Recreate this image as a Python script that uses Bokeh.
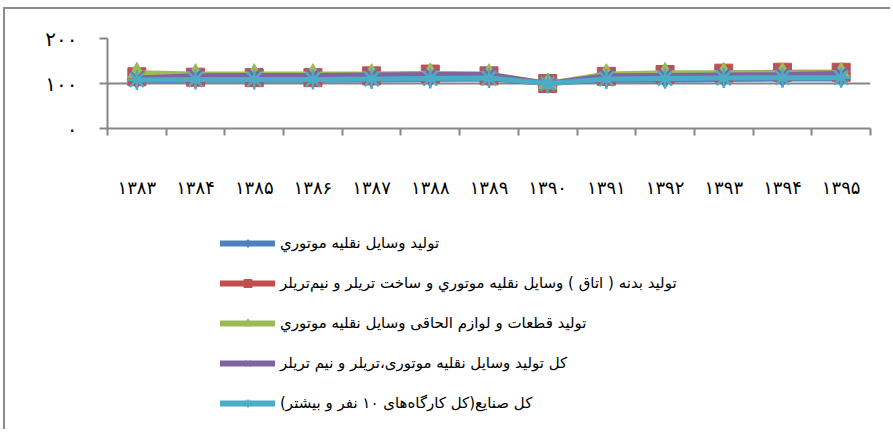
from bokeh.plotting import figure
from bokeh.layouts import column
from bokeh.models import FixedTicker, Legend, LegendItem, Range1d, ColumnDataSource
from bokeh.embed import file_html
from bokeh.resources import INLINE

years = ["۱۳۸۳", "۱۳۸۴", "۱۳۸۵", "۱۳۸۶", "۱۳۸۷", "۱۳۸۸", "۱۳۸۹",
         "۱۳۹۰", "۱۳۹۱", "۱۳۹۲", "۱۳۹۳", "۱۳۹۴", "۱۳۹۵"]
y_ticks = [0, 100, 200]
y_tick_labels = ["۰", "۱۰۰", "۲۰۰"]

names = [
    "تولید وسایل نقلیه موتوري",
    "تولید بدنه ( اتاق ) وسایل نقلیه موتوري و ساخت تریلر و نیم\u200cتریلر",
    "تولید قطعات و لوازم الحاقی وسایل نقلیه موتوري",
    "کل تولید وسایل نقلیه موتوری،تریلر و نیم تریلر",
    "\u200fکل صنایع(کل کارگاه\u200cهای ۱۰ نفر و بیشتر)\u200f",
]

vehicles = [106, 107, 107, 107, 108, 109, 110, 100, 108, 107, 109, 110, 110]
bodies = [115, 114, 113, 113, 117, 121, 117, 100, 116, 120, 123, 125, 125]
parts = [124, 121, 121, 121, 121, 123, 121, 100, 121, 124, 124, 124, 124]
total_vehicles = [112, 117, 118, 118, 119, 120, 120, 100, 117, 118, 119, 120, 122]
all_industry = [108, 109, 109, 109, 110, 111, 112, 100, 110, 111, 112, 113, 113]

series = [vehicles, bodies, parts, total_vehicles, all_industry]
colors = ["#4F81BD", "#C0504D", "#9BBB59", "#8064A2", "#4BACC6"]
markers = ["diamond", "square", "triangle", "x", "asterisk"]
msizes = [16, 18, 18, 20, 20]

xs = [i + 0.5 for i in range(len(years))]

p = figure(width=885, height=198, output_backend="svg", toolbar_location=None,
           x_range=Range1d(0, len(years)), y_range=Range1d(0, 200),
           min_border_left=102, min_border_right=20, min_border_top=29,
           min_border_bottom=79)
p.outline_line_color = None
p.background_fill_color = "white"
p.border_fill_color = "white"

axis_gray = "#868686"
# x axis
p.xaxis.ticker = FixedTicker(ticks=xs, minor_ticks=list(range(len(years) + 1)))
p.xaxis.major_label_overrides = {x: lab for x, lab in zip(xs, years)}
p.xaxis.major_tick_out = 0
p.xaxis.major_tick_in = 0
p.xaxis.minor_tick_out = 7
p.xaxis.minor_tick_in = 0
p.xaxis.minor_tick_line_color = axis_gray
p.xaxis.minor_tick_line_width = 2
p.xaxis.axis_line_color = axis_gray
p.xaxis.axis_line_width = 2
p.xaxis.major_label_standoff = 41
p.xaxis.major_label_text_font = "DejaVu Sans"
p.xaxis.major_label_text_font_size = "18px"
p.xaxis.major_label_text_color = "black"
# y axis
p.yaxis.ticker = FixedTicker(ticks=y_ticks, minor_ticks=[])
p.yaxis.major_label_overrides = {t: lab for t, lab in zip(y_ticks, y_tick_labels)}
p.yaxis.major_tick_out = 8
p.yaxis.major_tick_in = 0
p.yaxis.major_tick_line_color = axis_gray
p.yaxis.major_tick_line_width = 2
p.yaxis.minor_tick_line_color = None
p.yaxis.axis_line_color = axis_gray
p.yaxis.axis_line_width = 2
p.yaxis.major_label_standoff = 22
p.yaxis.major_label_text_font = "DejaVu Sans"
p.yaxis.major_label_text_font_size = "20px"
p.yaxis.major_label_text_color = "black"

p.xgrid.grid_line_color = None
p.ygrid.grid_line_color = axis_gray
p.ygrid.grid_line_width = 2

# legend figure (its view is empty; only the legend is visible)
p2 = figure(width=885, height=222, output_backend="svg", toolbar_location=None,
            x_range=Range1d(-100, -99), y_range=Range1d(-100, -99),
            x_axis_location=None, y_axis_location=None,
            min_border=0, min_border_left=0, min_border_right=0,
            min_border_top=0, min_border_bottom=0)
p2.outline_line_color = None
p2.grid.grid_line_color = None
p2.background_fill_color = "white"
p2.border_fill_color = "white"

items = []
for name, vals, col, mk, ms in zip(names, series, colors, markers, msizes):
    src = ColumnDataSource(dict(x=xs, y=vals))
    p.line("x", "y", source=src, line_color=col, line_width=5)
    lr = p2.line("x", "y", source=src, line_color=col, line_width=6,
                 line_cap="round")
    if mk in ("x", "asterisk"):
        p.scatter("x", "y", source=src, marker=mk, size=ms, line_color=col,
                  line_width=2.5)
        sr = p2.scatter("x", "y", source=src, marker=mk, size=ms, line_color=col,
                        line_width=1.5)
    else:
        p.scatter("x", "y", source=src, marker=mk, size=ms, fill_color=col,
                  line_color=col)
        sr = p2.scatter("x", "y", source=src, marker=mk, size=ms, fill_color=col,
                        line_color=col)
    items.append(LegendItem(label=name, renderers=[lr, sr]))

legend = Legend(items=items, location=(113, 16), orientation="vertical",
                glyph_width=55, glyph_height=20, label_height=20, spacing=20,
                padding=0, margin=0, label_standoff=5,
                label_text_font="DejaVu Sans", label_text_font_size="15px",
                label_text_color="black", border_line_color=None,
                background_fill_alpha=0)
p2.add_layout(legend, "center")

layout = column(p, p2, spacing=0, margin=(7, 0, 0, 3),
                styles={"border-top": "2px solid #8c8c8c",
                        "border-left": "2px solid #8c8c8c"})

open("out.html", "w").write(file_html(layout, INLINE))
